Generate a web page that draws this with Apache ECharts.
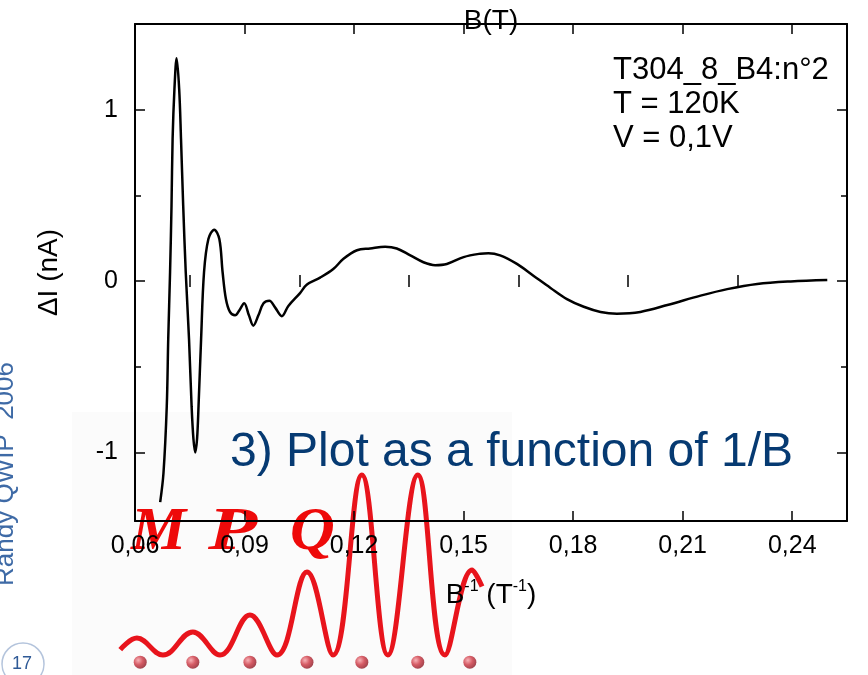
<!DOCTYPE html>
<html>
<head>
<meta charset="utf-8">
<script src="https://cdn.jsdelivr.net/npm/echarts@6/dist/echarts.min.js"></script>
<style>
  html, body { margin: 0; padding: 0; background: #ffffff; }
  #chart { width: 868px; height: 675px; }
</style>
</head>
<body>
<div id="chart"></div>
<script>
// Oscillating photocurrent ΔI (nA) versus inverse field B^-1 (T^-1)
const curveX = [
  0.0669, 0.0678, 0.0687, 0.0691, 0.0696, 0.0700, 0.0703, 0.0708, 0.0714,
  0.0721, 0.0726, 0.0732, 0.0739, 0.0748, 0.0755, 0.0760, 0.0765, 0.0770,
  0.0774, 0.0781, 0.0789, 0.0801, 0.0817, 0.0831, 0.0840, 0.0849, 0.0860,
  0.0874, 0.0886, 0.0899, 0.0912, 0.0924, 0.0938, 0.0952, 0.0968, 0.0984,
  0.1002, 0.1020, 0.1052, 0.1071, 0.1107, 0.1143, 0.1171, 0.1208, 0.1244,
  0.1285, 0.1317, 0.1354, 0.1390, 0.1422, 0.1454, 0.1500, 0.1546, 0.1568,
  0.1600, 0.1646, 0.1692, 0.1738, 0.1783, 0.1829, 0.1875, 0.1920, 0.1984,
  0.2058, 0.2149, 0.2222, 0.2304, 0.2396, 0.2496
];
const curveY = [
  -1.29, -1.12, -0.73, -0.34, 0.05, 0.44, 0.83, 1.12, 1.30,
  1.12, 0.83, 0.44, 0.05, -0.34, -0.73, -0.92, -1.00, -0.92,
  -0.73, -0.34, 0.05, 0.245, 0.30, 0.245, 0.05, -0.105, -0.18,
  -0.20, -0.17, -0.13, -0.20, -0.26, -0.20, -0.13, -0.115, -0.155,
  -0.205, -0.145, -0.07, -0.02, 0.02, 0.07, 0.13, 0.18, 0.19,
  0.20, 0.19, 0.15, 0.11, 0.093, 0.10, 0.14, 0.16, 0.163,
  0.15, 0.10, 0.03, -0.04, -0.105, -0.15, -0.18, -0.19, -0.18,
  -0.14, -0.085, -0.047, -0.017, -0.002, 0.006
];

// Axis ticks and labels
const xLabelValues = [0.06, 0.09, 0.12, 0.15, 0.18, 0.21, 0.24];
const xMinorValues = [0.075, 0.105, 0.135, 0.165, 0.195, 0.225, 0.255];
const yLabelValues = [-1, 0, 1];
const yMinorValues = [-0.5, 0.5, 1.5];

// MPQ logo: wave extrema (x in bead spacings, y relative to tallest crest) and the row of beads
const logoWaveX = [-0.32, -0.02, 0.45, 0.99, 1.48, 2.02, 2.51, 3.05, 3.52, 4.04, 4.51, 5.05, 5.54, 6.03, 6.21];
const logoWaveY = [0.03, 0.094, 0.0, 0.128, 0.0, 0.222, 0.0, 0.461, 0.0, 1.0, 0.0, 1.0, 0.0, 0.472, 0.38];
const logoDotX = [0.04, 0.99, 2.02, 3.05, 4.04, 5.05, 5.99];
const logoDotY = [-0.04, -0.04, -0.04, -0.04, -0.04, -0.04, -0.04];

const FONT = "'Liberation Sans', Arial, sans-serif";
const SERIF_BI = "italic bold 62px 'Liberation Serif', 'Times New Roman', serif";
const curveData = curveX.map((x, i) => [x, curveY[i]]);
const waveData = logoWaveX.map((x, i) => [x, logoWaveY[i]]);
const dotData = logoDotX.map((x, i) => [x, logoDotY[i]]);

const lineStyle = { color: '#000', width: 2 };
const tickStyle = { color: '#000', width: 1.5 };
const commaFmt = v => v.toFixed(2).replace('.', ',');

function frameAxis(extra) {
  return Object.assign({
    type: 'value',
    gridIndex: 0,
    z: 5,
    axisLine: { show: true, onZero: false, lineStyle: lineStyle },
    splitLine: { show: false },
    axisLabel: { show: false },
    axisTick: { show: true, inside: true, length: 10, lineStyle: tickStyle }
  }, extra);
}

const chart = echarts.init(document.getElementById('chart'));
chart.setOption({
  animation: false,
  backgroundColor: '#ffffff',
  grid: [
    { left: 135, top: 24, width: 712, height: 497 },
    { left: 110.3, top: 475, width: 387.8, height: 198 }
  ],
  xAxis: [
    frameAxis({
      position: 'bottom', min: 0.06, max: 0.255,
      axisTick: { show: true, inside: true, length: 10, customValues: xLabelValues, lineStyle: tickStyle },
      axisLabel: { show: true, customValues: xLabelValues, formatter: commaFmt, color: '#000', fontSize: 25, fontFamily: FONT, margin: 13 },
      name: '{b|B}{s|-1}{b| (T}{s|-1}{b|)}',
      nameLocation: 'middle', nameGap: 74,
      nameTextStyle: {
        verticalAlign: 'middle',
        rich: {
          b: { fontSize: 28, fontFamily: FONT, color: '#000', lineHeight: 32 },
          s: { fontSize: 16, fontFamily: FONT, color: '#000', verticalAlign: 'top', lineHeight: 32 }
        }
      }
    }),
    frameAxis({
      position: 'top', min: 0.06, max: 0.255,
      axisTick: { show: true, inside: true, length: 10, customValues: xLabelValues, lineStyle: tickStyle },
      name: 'B(T)', nameLocation: 'middle', nameGap: 3,
      nameTextStyle: { fontSize: 28, fontFamily: FONT, color: '#000', verticalAlign: 'middle' }
    }),
    frameAxis({
      position: 'bottom', min: 0.06, max: 0.255,
      axisLine: { show: false },
      axisTick: { show: true, inside: true, length: 6, customValues: xMinorValues, lineStyle: tickStyle }
    }),
    frameAxis({
      position: 'top', min: 0.06, max: 0.255,
      axisLine: { show: false },
      axisTick: { show: true, inside: true, length: 6, customValues: xMinorValues, lineStyle: tickStyle }
    }),
    { type: 'value', gridIndex: 1, min: -0.5, max: 6.5, show: false }
  ],
  yAxis: [
    frameAxis({
      position: 'left', min: -1.4, max: 1.5,
      axisTick: { show: true, inside: true, length: 10, customValues: yLabelValues, lineStyle: tickStyle },
      axisLabel: { show: true, customValues: yLabelValues, color: '#000', fontSize: 25, fontFamily: FONT, margin: 17 },
      name: 'ΔI (nA)', nameLocation: 'middle', nameRotate: 90, nameGap: 86,
      nameTextStyle: { fontSize: 28, fontFamily: FONT, color: '#000', verticalAlign: 'middle' }
    }),
    frameAxis({
      position: 'right', min: -1.4, max: 1.5,
      axisTick: { show: true, inside: true, length: 10, customValues: yLabelValues, lineStyle: tickStyle }
    }),
    frameAxis({
      position: 'left', min: -1.4, max: 1.5,
      axisLine: { show: false },
      axisTick: { show: true, inside: true, length: 6, customValues: yMinorValues, lineStyle: tickStyle }
    }),
    frameAxis({
      position: 'right', min: -1.4, max: 1.5,
      axisLine: { show: false },
      axisTick: { show: true, inside: true, length: 6, customValues: yMinorValues, lineStyle: tickStyle }
    }),
    { type: 'value', gridIndex: 1, min: -0.1, max: 1, show: false }
  ],
  graphic: {
    elements: [
      { type: 'rect', z: -20, shape: { x: 72, y: 412, width: 440, height: 263 }, style: { fill: '#fbfbfb' } },
      { type: 'text', z: -10, x: 131, y: 533, style: { text: 'M', fill: '#ee0a0a', font: SERIF_BI, verticalAlign: 'middle' } },
      { type: 'text', z: -10, x: 208, y: 533, scaleX: 1.3, style: { text: 'P', fill: '#ee0a0a', font: SERIF_BI, verticalAlign: 'middle' } },
      { type: 'text', z: -10, x: 290, y: 533, style: { text: 'Q', fill: '#ee0a0a', font: SERIF_BI, verticalAlign: 'middle' } },
      { type: 'text', z: 50, x: 613, y: 53, style: { text: 'T304_8_B4:n°2\nT = 120K\nV = 0,1V', fill: '#000', font: "31px 'Liberation Sans', Arial, sans-serif", lineHeight: 34, verticalAlign: 'top' } },
      { type: 'text', z: 50, x: 230, y: 453, style: { text: '3) Plot as a function of 1/B', fill: '#063a72', font: "48px 'Liberation Sans', Arial, sans-serif", verticalAlign: 'middle' } },
      { type: 'text', z: 50, x: 6, y: 474, rotation: Math.PI / 2, style: { text: 'Randy QWIP  2006', fill: '#3e6aa6', font: "26px 'Liberation Sans', Arial, sans-serif", align: 'center', verticalAlign: 'middle' } },
      { type: 'circle', z: 50, shape: { cx: 23, cy: 664, r: 21 }, style: { fill: 'none', stroke: '#b4c4dc', lineWidth: 1.5 } },
      { type: 'text', z: 51, x: 22, y: 664, style: { text: '17', fill: '#2f5a96', font: "18px 'Liberation Sans', Arial, sans-serif", align: 'center', verticalAlign: 'middle' } }
    ]
  },
  series: [
    {
      type: 'line', xAxisIndex: 4, yAxisIndex: 4, z: 1, clip: false,
      data: waveData, smooth: 0.4, showSymbol: false,
      lineStyle: { color: '#e8141c', width: 5 }
    },
    {
      type: 'scatter', xAxisIndex: 4, yAxisIndex: 4, z: 1, clip: false,
      data: dotData, symbolSize: 13,
      itemStyle: {
        color: new echarts.graphic.RadialGradient(0.35, 0.35, 0.7, [
          { offset: 0, color: '#f6a0a6' },
          { offset: 0.5, color: '#cc3440' },
          { offset: 1, color: '#8a1420' }
        ])
      }
    },
    {
      type: 'line', xAxisIndex: 0, yAxisIndex: 0, z: 6,
      data: curveData, smooth: 0.35, showSymbol: false,
      lineStyle: { color: '#000', width: 2.5 }
    }
  ]
});
</script>
</body>
</html>
